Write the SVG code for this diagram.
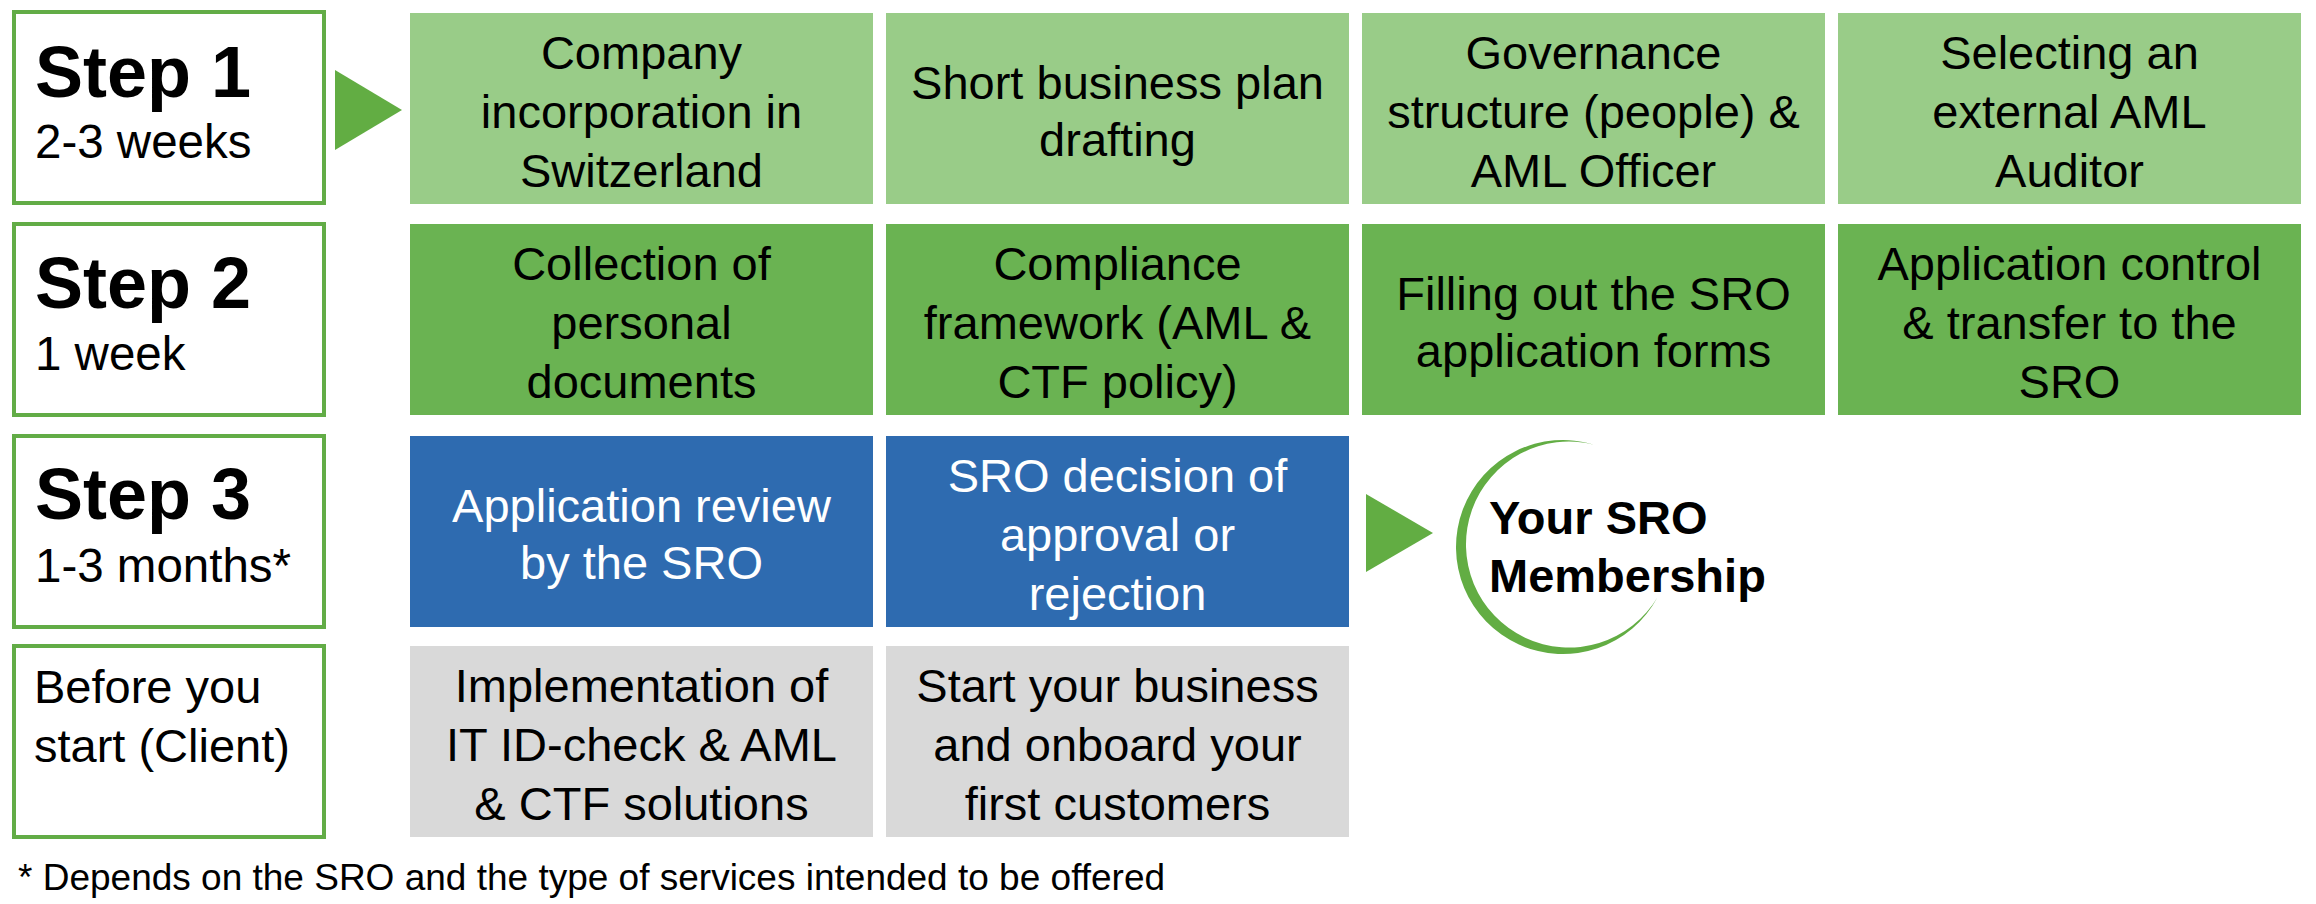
<svg xmlns="http://www.w3.org/2000/svg" width="2316" height="904" viewBox="0 0 2316 904">
<style>
text{font-family:"Liberation Sans",Arial,sans-serif;fill:#000}
.lbl{fill:#fff;stroke:#62AC46;stroke-width:4}
.c1{fill:#99CC88}
.c2{fill:#6AB352}
.c3{fill:#2E6BB0}
.c4{fill:#D9D9D9}
.t{font-size:47px;text-anchor:middle}
.w{fill:#fff}
.step{font-size:72px;font-weight:bold}
.sub{font-size:47.5px}
.arrow{fill:#62AD43}
</style>
<rect width="2316" height="904" fill="#fff"/>

<g id="label-step1">
<rect class="lbl" x="14" y="12" width="310" height="191"/>
<text class="step" x="35" y="97">Step 1</text>
<text class="sub" x="35" y="158">2-3 weeks</text>
</g>
<g id="label-step2">
<rect class="lbl" x="14" y="224" width="310" height="191"/>
<text class="step" x="35" y="308">Step 2</text>
<text class="sub" x="35" y="370">1 week</text>
</g>
<g id="label-step3">
<rect class="lbl" x="14" y="436" width="310" height="191"/>
<text class="step" x="35" y="519">Step 3</text>
<text class="sub" x="35" y="582">1-3 months*</text>
</g>
<g id="label-before">
<rect class="lbl" x="14" y="646" width="310" height="191"/>
<text class="t" style="text-anchor:start" x="34" y="703">Before you</text>
<text class="t" style="text-anchor:start" x="34" y="762">start (Client)</text>
</g>

<g id="connectors">
<polygon class="arrow" points="335,70 402,110 335,150"/>
<polygon class="arrow" points="1366,494 1433,533 1366,572"/>
</g>

<g id="s1-company">
<rect class="c1" x="410" y="13" width="463" height="191"/>
<text class="t" x="641.5" y="68.5">Company</text>
<text class="t" x="641.5" y="127.5">incorporation in</text>
<text class="t" x="641.5" y="186.5">Switzerland</text>
</g>
<g id="s1-plan">
<rect class="c1" x="886" y="13" width="463" height="191"/>
<text class="t" x="1117.5" y="99">Short business plan</text>
<text class="t" x="1117.5" y="156">drafting</text>
</g>
<g id="s1-governance">
<rect class="c1" x="1362" y="13" width="463" height="191"/>
<text class="t" x="1593.5" y="68.5">Governance</text>
<text class="t" x="1593.5" y="127.5">structure (people) &amp;</text>
<text class="t" x="1593.5" y="186.5">AML Officer</text>
</g>
<g id="s1-auditor">
<rect class="c1" x="1838" y="13" width="463" height="191"/>
<text class="t" x="2069.5" y="68.5">Selecting an</text>
<text class="t" x="2069.5" y="127.5">external AML</text>
<text class="t" x="2069.5" y="186.5">Auditor</text>
</g>

<g id="s2-documents">
<rect class="c2" x="410" y="224" width="463" height="191"/>
<text class="t" x="641.5" y="280">Collection of</text>
<text class="t" x="641.5" y="339">personal</text>
<text class="t" x="641.5" y="398">documents</text>
</g>
<g id="s2-compliance">
<rect class="c2" x="886" y="224" width="463" height="191"/>
<text class="t" x="1117.5" y="280">Compliance</text>
<text class="t" x="1117.5" y="339">framework (AML &amp;</text>
<text class="t" x="1117.5" y="398">CTF policy)</text>
</g>
<g id="s2-forms">
<rect class="c2" x="1362" y="224" width="463" height="191"/>
<text class="t" x="1593.5" y="310">Filling out the SRO</text>
<text class="t" x="1593.5" y="367">application forms</text>
</g>
<g id="s2-control">
<rect class="c2" x="1838" y="224" width="463" height="191"/>
<text class="t" x="2069.5" y="280">Application control</text>
<text class="t" x="2069.5" y="339">&amp; transfer to the</text>
<text class="t" x="2069.5" y="398">SRO</text>
</g>

<g id="s3-review">
<rect class="c3" x="410" y="436" width="463" height="191"/>
<text class="t w" x="641.5" y="522">Application review</text>
<text class="t w" x="641.5" y="579">by the SRO</text>
</g>
<g id="s3-decision">
<rect class="c3" x="886" y="436" width="463" height="191"/>
<text class="t w" x="1117.5" y="492">SRO decision of</text>
<text class="t w" x="1117.5" y="551">approval or</text>
<text class="t w" x="1117.5" y="610">rejection</text>
</g>
<g id="membership">
<path fill="#62AD43" d="M1594.3,444.7 A107,107 0 1 0 1657.5,597.2 A103,103 0 1 1 1594.3,444.7 Z"/>
<text x="1489" y="534" style="font-size:47px;font-weight:bold">Your SRO</text>
<text x="1489" y="592" style="font-size:47px;font-weight:bold">Membership</text>
</g>

<g id="b-it">
<rect class="c4" x="410" y="646" width="463" height="191"/>
<text class="t" x="641.5" y="702">Implementation of</text>
<text class="t" x="641.5" y="761">IT ID-check &amp; AML</text>
<text class="t" x="641.5" y="820">&amp; CTF solutions</text>
</g>
<g id="b-start">
<rect class="c4" x="886" y="646" width="463" height="191"/>
<text class="t" x="1117.5" y="702">Start your business</text>
<text class="t" x="1117.5" y="761">and onboard your</text>
<text class="t" x="1117.5" y="820">first customers</text>
</g>

<text x="18" y="890" style="font-size:37px">* Depends on the SRO and the type of services intended to be offered</text>
</svg>
